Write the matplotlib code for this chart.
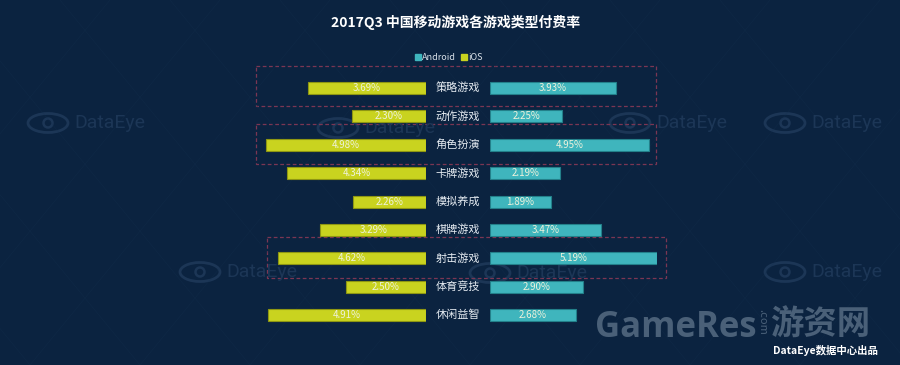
import matplotlib.pyplot as plt
from matplotlib.patches import Rectangle, Ellipse, Circle
from matplotlib.lines import Line2D

plt.rcParams['font.family'] = ['Noto Sans CJK SC', 'DejaVu Sans']

# 数据
categories = ['策略游戏', '动作游戏', '角色扮演', '卡牌游戏', '模拟养成',
              '棋牌游戏', '射击游戏', '体育竞技', '休闲益智']
ios = [3.69, 2.30, 4.98, 4.34, 2.26, 3.29, 4.62, 2.50, 4.91]
android = [3.93, 2.25, 4.95, 2.19, 1.89, 3.47, 5.19, 2.90, 2.68]

BG = '#0b2340'
IOS_C = '#c9d31f'
AND_C = '#3fb5bd'
WM_C = '#1c3656'
W, H = 900, 365

fig = plt.figure(figsize=(9, 3.65), dpi=100, facecolor=BG)

# 背景の薄い斜線
bg = fig.add_axes([0, 0, 1, 1])
bg.set_xlim(0, W)
bg.set_ylim(H, 0)
bg.axis('off')
bg.set_facecolor(BG)
for x0 in range(-300, 1100, 110):
    bg.plot([x0, x0 + 300], [H, 0], color='#14304f', lw=0.5, alpha=0.35)
    bg.plot([x0, x0 - 300], [H, 0], color='#14304f', lw=0.5, alpha=0.35)

# 透かし
def watermark(x, y):
    bg.add_patch(Ellipse((x, y), 40, 19, fill=False, ec=WM_C, lw=2))
    bg.add_patch(Circle((x, y), 4.5, fill=False, ec=WM_C, lw=1.8))
    bg.text(x + 26, y, 'DataEye', color=WM_C, fontsize=14,
            va='center', ha='left', family=['Roboto', 'DejaVu Sans'])

for px, py in [(48, 123), (338, 128), (630, 123), (785, 123),
               (200, 272), (490, 273), (785, 272)]:
    watermark(px, py)

# 强调框
boxes = [(256, 66, 400, 40), (256, 124, 400, 40), (267, 237, 399, 41)]
for bx, by, bw, bh in boxes:
    bg.add_patch(Rectangle((bx, by), bw, bh, fill=False, ec='#7b3653',
                           lw=0.9, ls=(0, (3, 2))))

# 条形
n = len(categories)
row_top, row_h = 73.8, 28.4
ax_bottom = 1 - (row_top + row_h * n) / H
ax_height = row_h * n / H
scale = 32.1
xmax = 5.2
ax_l = fig.add_axes([(426 - xmax * scale) / W, ax_bottom, xmax * scale / W, ax_height])
ax_r = fig.add_axes([490 / W, ax_bottom, xmax * scale / W, ax_height])

ypos = list(range(n))
for ax, vals, col, ec in [(ax_l, ios, IOS_C, '#8e9612'), (ax_r, android, AND_C, '#23808a')]:
    ax.barh(ypos, vals, height=0.42, color=col, edgecolor=ec, linewidth=0.8)
    ax.set_ylim(n - 0.5, -0.5)
    ax.axis('off')
    for i, v in enumerate(vals):
        ax.text(v / 2, i, f'{v:.2f}%', ha='center', va='center',
                color='#eef2dc', fontsize=7)
ax_l.set_xlim(xmax, 0)
ax_r.set_xlim(0, xmax)

for i, c in enumerate(categories):
    fig.text(458 / W, 1 - (row_top + row_h * (i + 0.5)) / H, c, ha='center',
             va='center', color='#e6ecf2', fontsize=8)

# 标题
fig.text(456 / W, 1 - 22 / H, '2017Q3 中国移动游戏各游戏类型付费率', ha='center',
         va='center', color='white', fontsize=10, fontweight='bold')

# 图例
handles = [Line2D([], [], marker='s', ls='', color=AND_C, markersize=4),
           Line2D([], [], marker='s', ls='', color=IOS_C, markersize=4)]
fig.legend(handles, ['Android', 'iOS'], loc='center', bbox_to_anchor=(449 / W, 1 - 58 / H),
           ncol=2, frameon=False, fontsize=6.5, labelcolor='#d8e0e8',
           handlelength=0.6, handletextpad=0.2, columnspacing=0.6)

# 右下标志
fig.text(595 / W, 1 - 328 / H, 'GameRes', color='#4a6078', fontsize=25,
         fontweight='bold', va='center', ha='left', family=['Open Sans', 'DejaVu Sans'])
fig.text(762 / W, 1 - 322 / H, '.com', color='#4a6078', fontsize=8, rotation=-90,
         va='center', ha='center')
fig.text(770 / W, 1 - 325 / H, '游资网', color='#4a6078', fontsize=24,
         fontweight='bold', va='center', ha='left')
fig.text(878 / W, 1 - 350 / H, 'DataEye数据中心出品', color='white', fontsize=7.5,
         fontweight='bold', va='center', ha='right')

fig.savefig('out.png', dpi=100, facecolor=BG)
